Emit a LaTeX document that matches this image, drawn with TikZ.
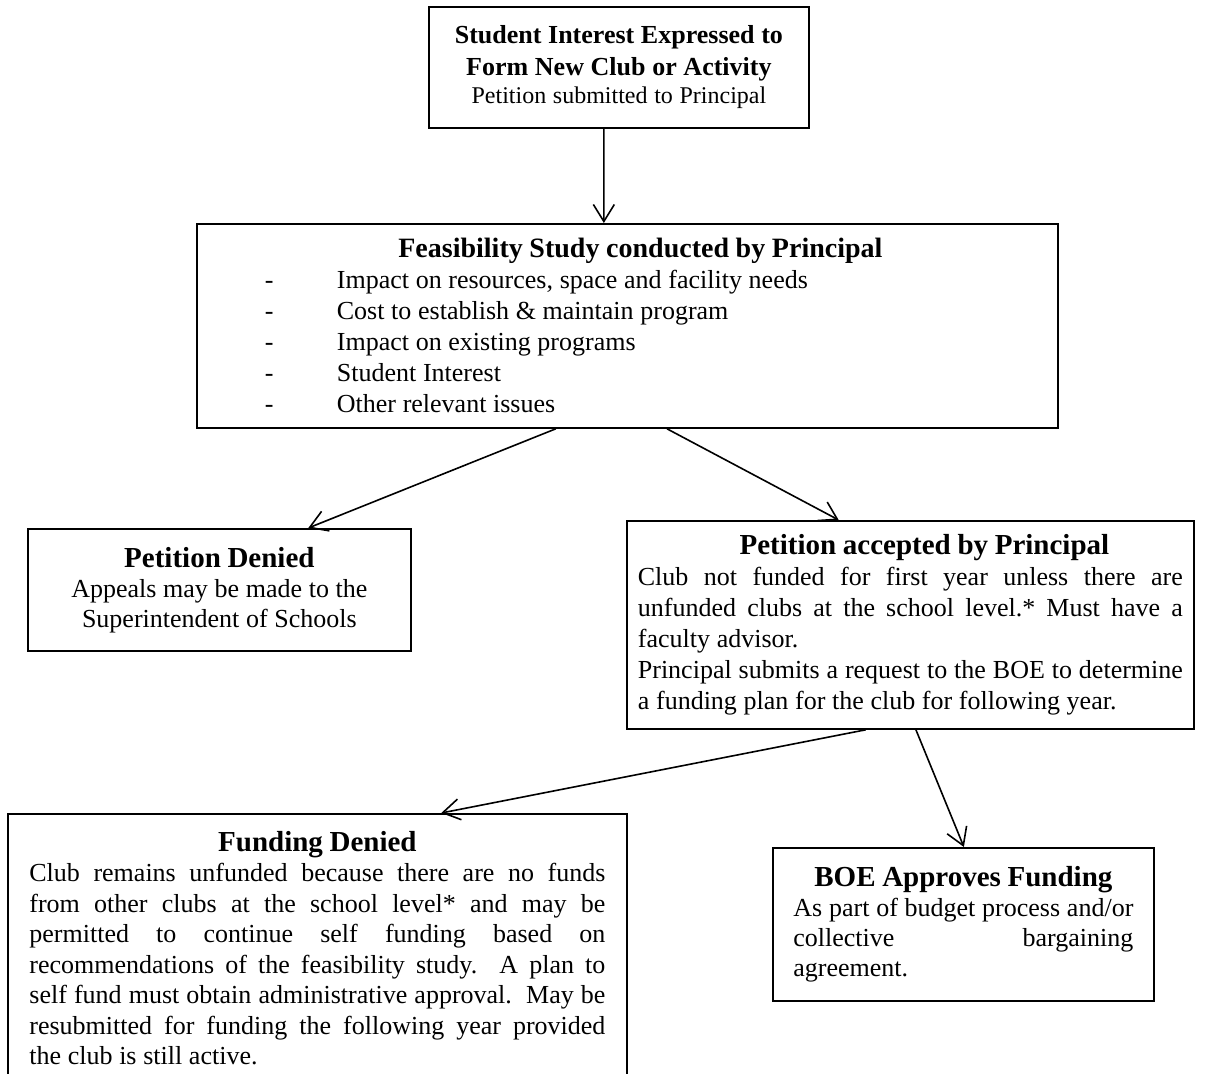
\documentclass[tikz,border=0pt]{standalone}
\usepackage{fontspec}
\setmainfont{Liberation Serif}
\usetikzlibrary{arrows.meta,calc}
\newcommand{\dashitem}[1]{\makebox[36pt][l]{-}#1\par}
\newcommand{\jline}[1]{{\spaceskip=0pt\xspaceskip=0pt\hbox to \hsize{#1}}}
\newcommand{\ttl}[3][0pt]{{\centering\fontsize{#2}{16}\selectfont\bfseries\hspace*{#1}#3\par}}
\begin{document}
\begin{tikzpicture}[x=0.5pt,y=-0.5pt,
  box/.style={draw, line width=0.9pt, inner sep=0pt, anchor=north west},
  arr/.style={line width=0.8pt, -{Straight Barb[length=8.5pt,width=10.5pt,line width=0.8pt]}}
]
\useasboundingbox (0,0) rectangle (1221,1074);
\fill[white] (0,0) rectangle (1221,1074);
\clip (0,0) rectangle (1221,1074);

\node[box, minimum width=190pt, minimum height=60.5pt, text width=180pt] (b1) at (428,6)
  {\centering{\fontsize{13}{16}\selectfont\bfseries Student Interest Expressed to\\Form New Club or Activity\par}
   {\fontsize{12}{14}\selectfont Petition submitted to Principal\par}};

\node[box, minimum width=430.5pt, minimum height=102pt, text width=362.5pt] (b2) at (196,223)
  {\ttl[13pt]{14}{Feasibility Study conducted by Principal}
   \fontsize{13}{15.5}\selectfont
   \dashitem{Impact on resources, space and facility needs}
   \dashitem{Cost to establish \& maintain program}
   \dashitem{Impact on existing programs}
   \dashitem{Student Interest}
   \dashitem{Other relevant issues}};

\node[box, minimum width=191.5pt, minimum height=61pt, text width=180pt] (b3) at (27,528)
  {\centering\ttl{14.5}{Petition Denied}
   \fontsize{13}{15}\selectfont
   Appeals may be made to the\par
   Superintendent of Schools\par};

\node[box, minimum width=283.5pt, minimum height=104pt, text width=272.5pt] (b4) at (626,520)
  {\ttl[14pt]{14.5}{Petition accepted by Principal}
   \fontsize{13}{15.5}\selectfont
   \jline{Club not funded for first year unless there are}
   \jline{unfunded clubs at the school level.* Must have a}
   faculty advisor.\par
   \jline{Principal submits a request to the BOE to determine}
   a funding plan for the club for following year.\par};

\node[box, minimum width=309.5pt, minimum height=134pt, text width=288pt] (b5) at (7,813)
  {\ttl{14.5}{Funding Denied}
   \fontsize{13}{15.25}\selectfont
   \jline{Club remains unfunded because there are no funds}
   \jline{from other clubs at the school level* and may be}
   \jline{permitted to continue self funding based on}
   \jline{recommendations of the feasibility study.\ \ A plan to}
   \jline{self fund must obtain administrative approval.\ \ May be}
   \jline{resubmitted for funding the following year provided}
   the club is still active.\par};

\node[box, minimum width=190.5pt, minimum height=76.5pt, text width=170pt] (b6) at (772,847)
  {\ttl{14.5}{BOE Approves Funding}
   \fontsize{13}{15}\selectfont
   \jline{As part of budget process and/or}
   \jline{collective bargaining}
   agreement.\par};

\draw[arr] ($(b1.south west)!0.4605!(b1.south east)$) -- ($(b2.north west)!0.4727!(b2.north east)$);
\draw[arr] ($(b2.south west)!0.417!(b2.south east)$) -- ($(b3.north west)!0.731!(b3.north east)$);
\draw[arr] ($(b2.south west)!0.5459!(b2.south east)$) -- ($(b4.north west)!0.3739!(b4.north east)$);
\draw[arr] ($(b4.south west)!0.4215!(b4.south east)$) -- ($(b5.north west)!0.6995!(b5.north east)$);
\draw[arr] ($(b4.south west)!0.5097!(b4.south east)$) -- ($(b6.north west)!0.5013!(b6.north east)$);
\end{tikzpicture}
\end{document}
